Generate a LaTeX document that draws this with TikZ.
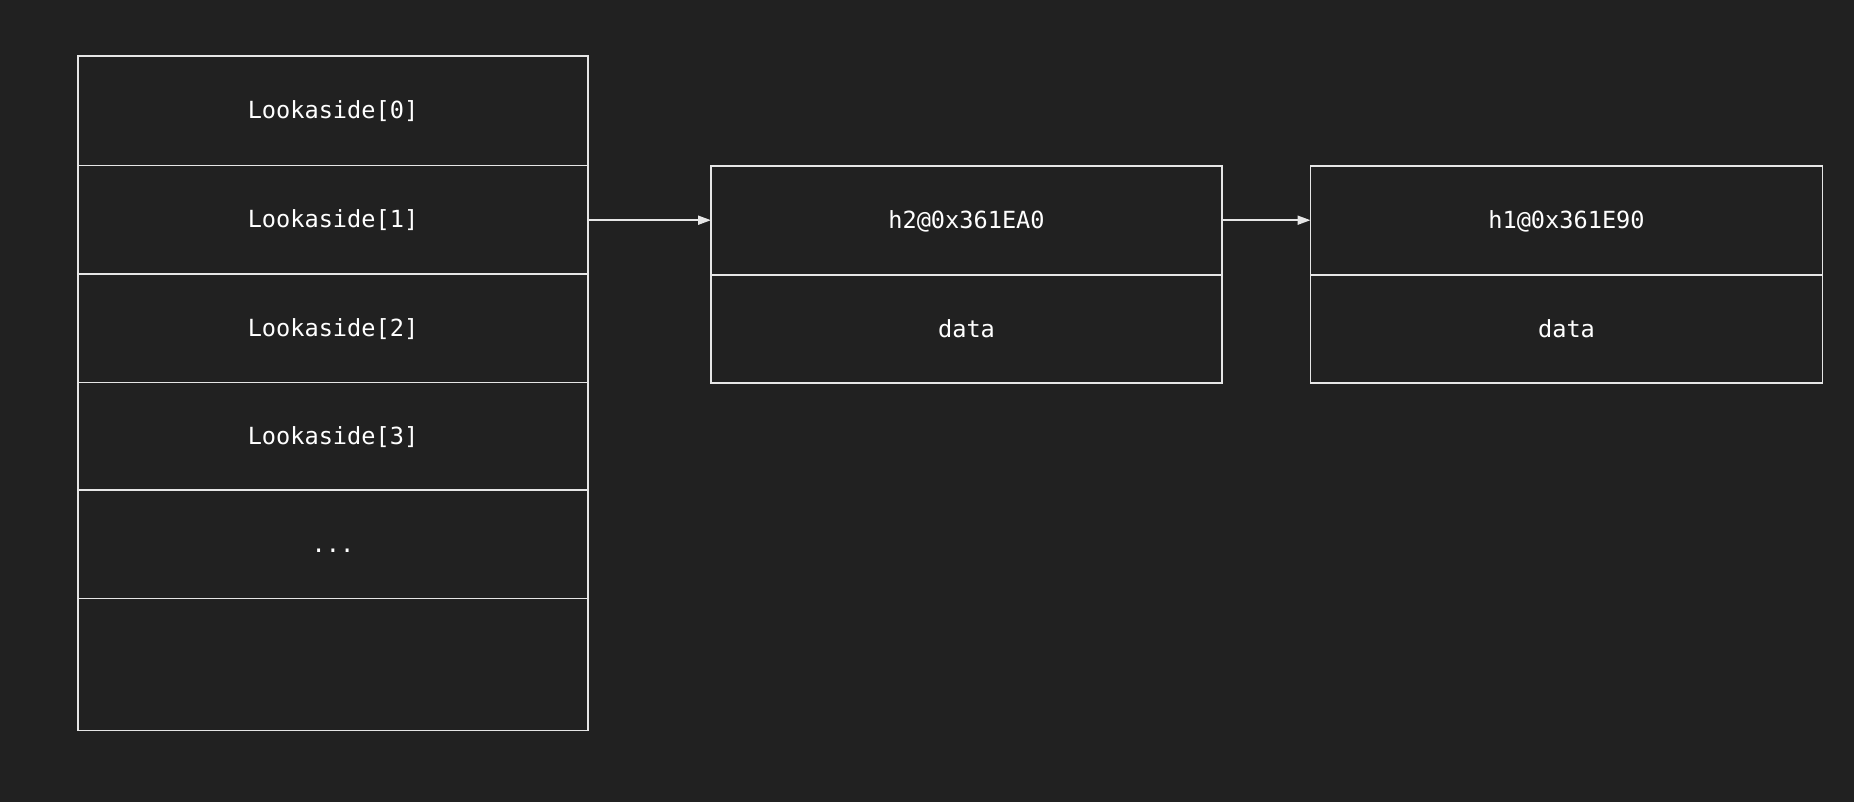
\documentclass[tikz,border=0pt]{standalone}
\usepackage{fontspec}
\setmonofont{DejaVu Sans Mono}
\usetikzlibrary{arrows.meta}
\definecolor{bg}{HTML}{212121}
\definecolor{ln}{HTML}{E6E6E6}
\begin{document}
\begin{tikzpicture}[x=1pt,y=-1pt,
  cell/.style={draw=ln, line width=1.8pt, rectangle, inner sep=0pt, outer sep=0pt,
    text height=16.5pt, text depth=0pt,
    text=white, font=\fontsize{23.6}{28}\selectfont\ttfamily},
  link/.style={draw=ln, line width=1.8pt, -{Triangle[length=13pt,width=9pt]}}]
\fill[bg] (0,0) rectangle (1854,802);
\useasboundingbox (0,0) rectangle (1854,802);
% left column
\node[cell, minimum width=510pt, minimum height=109.5pt] (l0) at (333,110.75) {Lookaside[0]};
\node[cell, minimum width=510pt, minimum height=108.5pt] (l1) at (333,219.75) {Lookaside[1]};
\node[cell, minimum width=510pt, minimum height=108.5pt] (l2) at (333,328.25) {Lookaside[2]};
\node[cell, minimum width=510pt, minimum height=107.5pt] (l3) at (333,436.25) {Lookaside[3]};
\node[cell, minimum width=510pt, minimum height=108.5pt] (l4) at (333,544.25) {...};
\node[cell, minimum width=510pt, minimum height=132pt] (l5) at (333,664.5) {};
% middle box
\node[cell, minimum width=511pt, minimum height=109pt] (m0) at (966.5,220.2) {h2@0x361EA0};
\node[cell, minimum width=511pt, minimum height=108.5pt] (m1) at (966.5,328.9) {data};
% right box
\node[cell, minimum width=512pt, minimum height=109pt] (r0) at (1566.5,220.2) {h1@0x361E90};
\node[cell, minimum width=512pt, minimum height=108.5pt] (r1) at (1566.5,328.9) {data};
% arrows
\draw[link] (l1.east |- m0.west) -- (m0.west);
\draw[link] (m0.east) -- (r0.west);
\end{tikzpicture}
\end{document}
